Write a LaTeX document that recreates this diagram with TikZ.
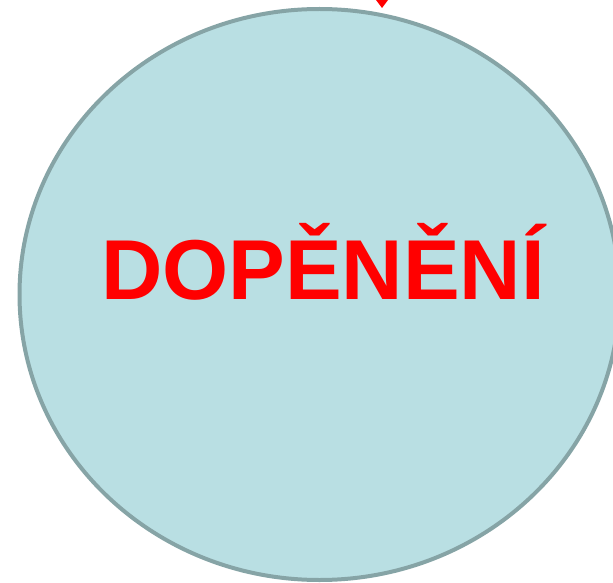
\documentclass[tikz,border=0pt]{standalone}
\usepackage{fontspec}
\setmainfont{Liberation Sans}
\usetikzlibrary{shapes.geometric}
\definecolor{cfill}{HTML}{B9DFE3}
\definecolor{cstroke}{HTML}{86A4A6}
\tikzset{bubble/.style={draw=cstroke,fill=cfill,line width=4pt},
  bigtxt/.style={text=red,font=\bfseries\fontsize{85}{90}\selectfont,inner sep=0pt}}
\begin{document}
\begin{tikzpicture}[x=1pt,y=-1pt]
\useasboundingbox (0,0) rectangle (613,583);
\node[bubble,ellipse,minimum width=600pt,minimum height=571pt,inner sep=0pt] (c) at (319.5,294.5) {};
\node[bigtxt] (t) at (323,262) {DOPĚNĚNÍ};
\coordinate (a1) at (382,8);
\fill[red] (376,0) -- (388,0) -- (a1) -- cycle;
\end{tikzpicture}
\end{document}
